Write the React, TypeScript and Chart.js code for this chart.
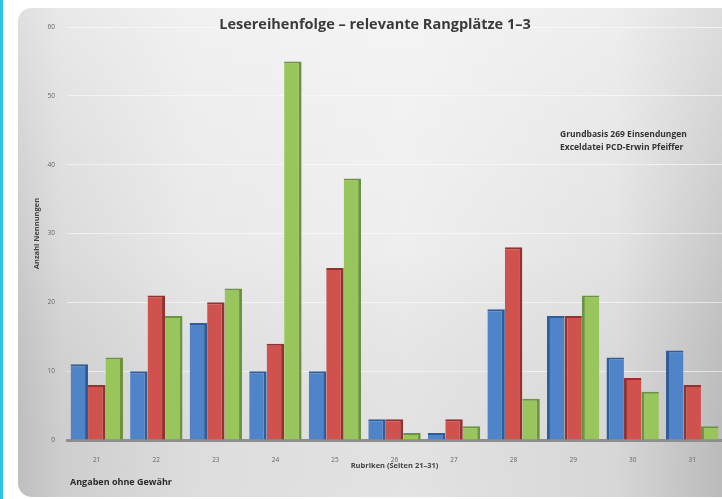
import React, { useEffect, useRef } from 'react';
import { Chart, registerables } from 'chart.js';

Chart.register(...registerables);

const categories = ['21', '22', '23', '24', '25', '26', '27', '28', '29', '30', '31'];
const rang1 = [11, 10, 17, 10, 10, 3, 1, 19, 18, 12, 13];
const rang2 = [8, 21, 20, 14, 25, 3, 3, 28, 18, 9, 8];
const rang3 = [12, 18, 22, 55, 38, 1, 2, 6, 21, 7, 2];
const seriesNames = ['Rangplatz 1', 'Rangplatz 2', 'Rangplatz 3'];
const yMax = 60;
const yStep = 10;

const titleText = 'Lesereihenfolge – relevante Rangplätze 1–3';
const noteLines = ['Grundbasis 269 Einsendungen', 'Exceldatei PCD-Erwin Pfeiffer'];
const footerText = 'Angaben ohne Gewähr';
const xTitle = 'Rubriken (Seiten 21–31)';
const yTitle = 'Anzahl Nennungen';

const W = 704;
const H = 491;
const FONT = '"Open Sans", "DejaVu Sans", sans-serif';

const fills = ['#4f84c9', '#cf524e', '#98c65c'];
const sides = ['#2f5d98', '#913330', '#6b9340'];

const bgPlugin = {
  id: 'panelBg',
  beforeDraw(chart: any) {
    const ctx = chart.ctx as CanvasRenderingContext2D;
    ctx.save();
    const g = ctx.createLinearGradient(0, 0, W, 0);
    g.addColorStop(0, '#c6c6c6');
    g.addColorStop(0.06, '#d6d6d6');
    g.addColorStop(0.25, '#e6e6e6');
    g.addColorStop(0.55, '#ececec');
    g.addColorStop(0.85, '#e0e0e0');
    g.addColorStop(1, '#c2c2c2');
    ctx.beginPath();
    (ctx as any).roundRect(0, 0, W + 30, 489, 14);
    ctx.fillStyle = g;
    ctx.fill();
    const v = ctx.createLinearGradient(0, 0, 0, 489);
    v.addColorStop(0, 'rgba(255,255,255,0.45)');
    v.addColorStop(0.5, 'rgba(255,255,255,0.1)');
    v.addColorStop(1, 'rgba(0,0,0,0.04)');
    ctx.fillStyle = v;
    ctx.fill();
    ctx.restore();
  },
  afterDraw(chart: any) {
    const ctx = chart.ctx as CanvasRenderingContext2D;
    ctx.save();
    ctx.fillStyle = '#3a3a3a';
    ctx.textAlign = 'center';
    ctx.textBaseline = 'middle';
    ctx.font = `bold 14.5px ${FONT}`;
    ctx.fillText(titleText, 357, 17);
    ctx.textAlign = 'left';
    ctx.font = `bold 8.5px ${FONT}`;
    ctx.fillStyle = '#333';
    ctx.fillText(noteLines[0], 542, 127);
    ctx.fillText(noteLines[1], 542, 140);
    ctx.font = `bold 9px ${FONT}`;
    ctx.fillStyle = '#2a2a2a';
    ctx.fillText(footerText, 52, 474);
    ctx.restore();
  },
};

export default function App() {
  const ref = useRef<HTMLCanvasElement>(null);
  useEffect(() => {
    document.body.style.margin = '0';
    const mk = (data: number[], i: number) => ({
      label: seriesNames[i],
      data,
      backgroundColor: fills[i],
      borderColor: sides[i],
      borderSkipped: false,
      borderWidth: (c: any) =>
        c.dataIndex >= 8 ? { top: 2, left: 3, right: 0, bottom: 0 } : { top: 2, right: 3, left: 0, bottom: 0 },
      categoryPercentage: 0.88,
      barPercentage: 1.0,
    });
    const chart = new Chart(ref.current!, {
      type: 'bar',
      data: {
        labels: categories,
        datasets: [mk(rang1, 0), mk(rang2, 1), mk(rang3, 2)],
      },
      plugins: [bgPlugin],
      options: {
        responsive: false,
        animation: false,
        layout: { padding: { top: 19, right: 0, left: 0, bottom: 0 } },
        plugins: { legend: { display: false }, title: { display: false }, tooltip: { enabled: false } },
        scales: {
          x: {
            afterFit: (s: any) => { s.height = 59; },
            grid: { display: false },
            border: { display: true, color: '#8e8e8e', width: 3 },
            ticks: { font: { size: 6.5, family: FONT }, color: '#666', padding: 8 },
            title: {
              display: true,
              text: xTitle,
              font: { size: 7.5, family: FONT, weight: 'bold' },
              color: '#444',
              padding: { top: 0, bottom: 29 },
            },
          },
          y: {
            min: 0,
            max: yMax,
            afterFit: (s: any) => { s.width = 49; },
            grid: { color: 'rgba(255,255,255,0.55)', lineWidth: 1, drawTicks: false },
            border: { display: false },
            ticks: { stepSize: yStep, font: { size: 6.5, family: FONT }, color: '#666', padding: 12 },
            title: {
              display: true,
              text: yTitle,
              font: { size: 7.5, family: FONT, weight: 'bold' },
              color: '#444',
              padding: { top: 14, bottom: 0 },
            },
          },
        },
      },
    } as any);
    return () => chart.destroy();
  }, []);
  return (
    <div style={{ position: 'fixed', left: 0, top: 0, width: 722, height: 499, background: '#fff', overflow: 'hidden' }}>
      <div style={{ position: 'absolute', left: 0, top: 0, width: 3, height: 499, background: '#2ec4e8' }} />
      <canvas ref={ref} width={W} height={H} style={{ position: 'absolute', left: 18, top: 8, width: W, height: H }} />
    </div>
  );
}
